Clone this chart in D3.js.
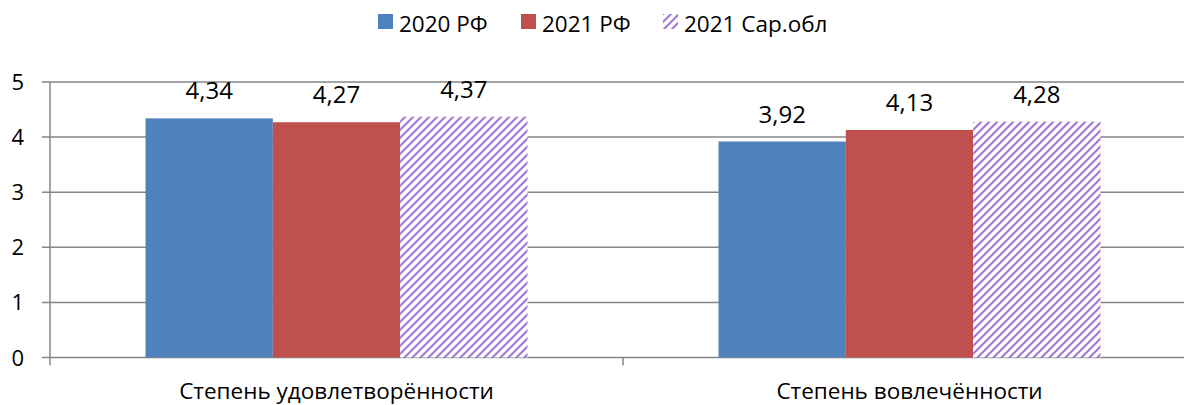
<!DOCTYPE html>
<html lang="ru">
<head>
<meta charset="UTF-8">
<title>Степень удовлетворённости и вовлечённости</title>
<script src="https://d3js.org/d3.v7.min.js"></script>
<style>
    body { margin: 0; background: #ffffff; }
    svg { display: block; font-family: "Open Sans", sans-serif; }
    .grid line { stroke: #868686; stroke-width: 1.5; }
    .val { font-size: 24px; fill: #000; text-anchor: middle; }
    .cat { font-size: 22.5px; fill: #000; text-anchor: middle; }
    .tick-label { font-size: 22px; fill: #000; text-anchor: end; }
    .legend text { font-size: 22.5px; fill: #000; }
</style>
</head>
<body>
<svg id="chart" width="1184" height="405"></svg>
<script>
    const categories = ["Степень удовлетворённости", "Степень вовлечённости"];
    const seriesNames = ["2020 РФ", "2021 РФ", "2021 Сар.обл"];
    const values2020 = [4.34, 3.92];
    const values2021 = [4.27, 4.13];
    const valuesSar = [4.37, 4.28];
    const yTicks = [0, 1, 2, 3, 4, 5];

    const seriesValues = [values2020, values2021, valuesSar];
    const colors = ["#4f81bd", "#c0504d", "url(#hatch)"];

    const width = 1184, height = 405;
    const margin = {left: 50, right: -12, top: 82, bottom: 47};

    const svg = d3.select("#chart");

    // diagonal hatch for the third series
    const defs = svg.append("defs");
    const pat = defs.append("pattern")
        .attr("id", "hatch")
        .attr("patternUnits", "userSpaceOnUse")
        .attr("width", 8)
        .attr("height", 8);
    pat.append("rect").attr("width", 8).attr("height", 8).attr("fill", "#ffffff");
    pat.append("path")
        .attr("d", "M0,8 L8,0 M-2,2 L2,-2 M6,10 L10,6")
        .attr("stroke", "#a27bd3")
        .attr("stroke-width", 2.2);

    const x0 = d3.scaleBand()
        .domain(categories)
        .range([margin.left, width - margin.right])
        .paddingInner(0)
        .paddingOuter(0);

    // gap width 150% -> bars take 3/(3+1.5) of the band
    const x1 = d3.scaleBand()
        .domain(seriesNames)
        .range([0, x0.bandwidth()])
        .paddingInner(0)
        .paddingOuter(0.75);

    const y = d3.scaleLinear()
        .domain([0, 5])
        .range([height - margin.bottom - 0.5, margin.top]);

    // gridlines + y ticks
    const grid = svg.append("g").attr("class", "grid");
    grid.selectAll("line.g")
        .data(yTicks)
        .join("line")
        .attr("x1", margin.left - 8)
        .attr("x2", width - margin.right)
        .attr("y1", d => y(d))
        .attr("y2", d => y(d));

    // y axis line
    grid.append("line")
        .attr("x1", margin.left).attr("x2", margin.left)
        .attr("y1", y(5)).attr("y2", y(0) + 8);

    // category boundary ticks
    grid.selectAll("line.ct")
        .data(categories)
        .join("line")
        .attr("x1", d => x0(d) + x0.bandwidth())
        .attr("x2", d => x0(d) + x0.bandwidth())
        .attr("y1", y(0))
        .attr("y2", y(0) + 8);

    svg.append("g").selectAll("text")
        .data(yTicks)
        .join("text")
        .attr("class", "tick-label")
        .attr("x", 24)
        .attr("y", d => y(d) + 8)
        .text(d => d);

    // bars
    const groups = svg.append("g").selectAll("g")
        .data(categories)
        .join("g")
        .attr("transform", d => `translate(${x0(d)},0)`);

    groups.selectAll("rect")
        .data((c, ci) => seriesNames.map((s, si) => ({s, si, v: seriesValues[si][ci]})))
        .join("rect")
        .attr("x", d => x1(d.s))
        .attr("width", x1.bandwidth())
        .attr("y", d => y(d.v))
        .attr("height", d => y(0) - y(d.v))
        .attr("fill", d => colors[d.si]);

    groups.selectAll("text")
        .data((c, ci) => seriesNames.map((s, si) => ({s, si, v: seriesValues[si][ci]})))
        .join("text")
        .attr("class", "val")
        .attr("x", d => x1(d.s) + x1.bandwidth() / 2)
        .attr("y", d => y(d.v) - 19)
        .text(d => d.v.toFixed(2).replace(".", ","));

    // category labels
    svg.append("g").selectAll("text")
        .data(categories)
        .join("text")
        .attr("class", "cat")
        .attr("x", d => x0(d) + x0.bandwidth() / 2)
        .attr("y", 399)
        .text(d => d);

    // legend
    const legendX = [378, 521, 663];
    const legend = svg.append("g").attr("class", "legend");
    const items = legend.selectAll("g")
        .data(seriesNames)
        .join("g")
        .attr("transform", (d, i) => `translate(${legendX[i]},14)`);
    items.append("rect")
        .attr("width", 15)
        .attr("height", 15)
        .attr("fill", (d, i) => colors[i]);
    items.append("text")
        .attr("x", 21)
        .attr("y", 18)
        .text(d => d);
</script>
</body>
</html>
